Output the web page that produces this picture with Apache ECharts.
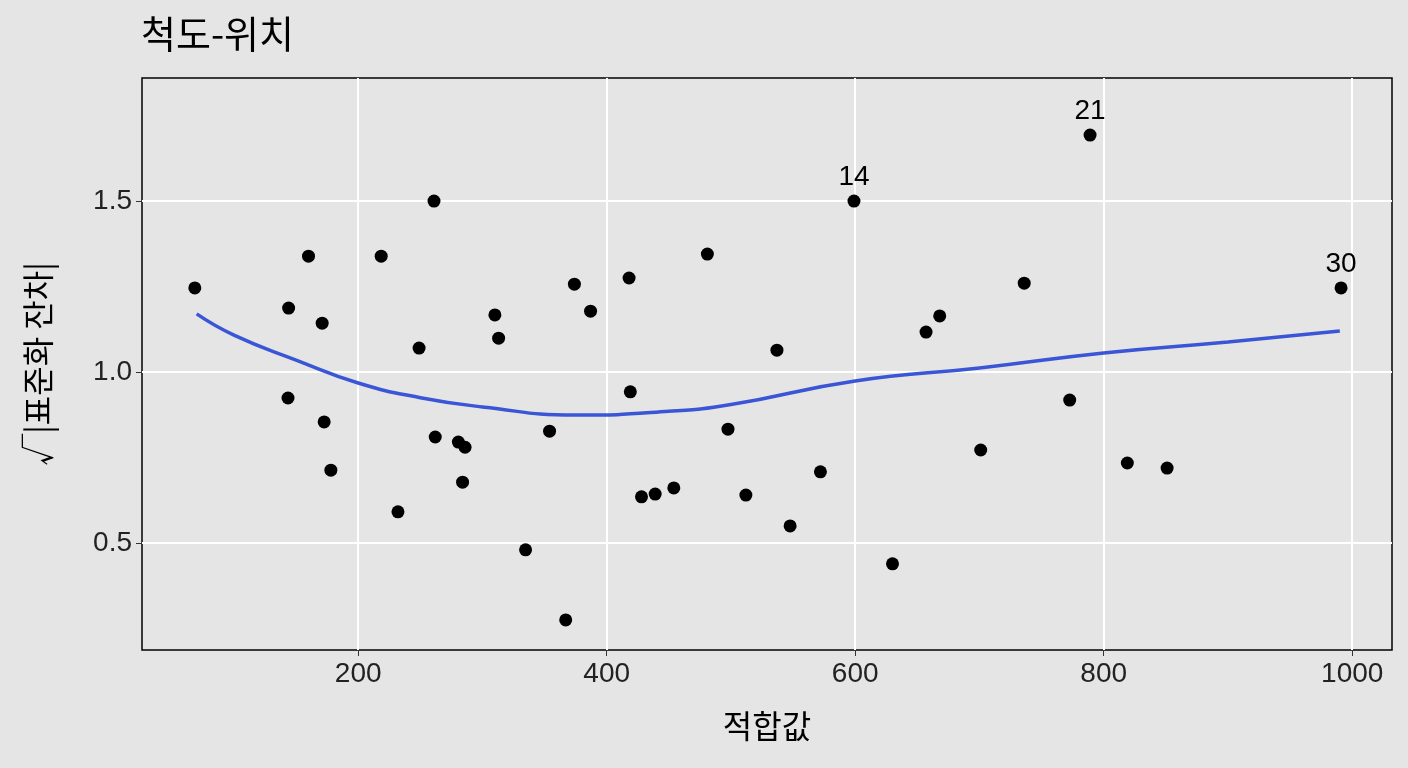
<!DOCTYPE html>
<html>
<head>
<meta charset="utf-8" />
<title>척도-위치</title>
<script src="https://cdn.jsdelivr.net/npm/echarts@6/dist/echarts.min.js"></script>
<style>
	html,body{margin:0;padding:0;background:#e5e5e5;}
	#chart{width:1408px;height:768px;}
</style>
</head>
<body>
<div id="chart"></div>
<script type="text/javascript">
// 적합값, sqrt|표준화 잔차|
var fitted = [68.5,144,160,171,143.5,172.6,178,218.5,261,249,262,232,280.6,286,284,310,313,354,334.7,367,374,387,418,419,428,439,454,481,497.6,512,537,547.6,572,599,630,657,668,701,736,772.6,789,819,851,991];
var resid = [1.246,1.187,1.339,1.143,0.924,0.854,0.713,1.339,1.5,1.07,0.81,0.591,0.795,0.78,0.678,1.167,1.099,0.827,0.48,0.275,1.257,1.178,1.275,0.942,0.635,0.643,0.661,1.345,0.833,0.64,1.064,0.55,0.708,1.5,0.439,1.117,1.164,0.772,1.26,0.918,1.693,0.734,0.719,1.246];
var labels = {33:'14',40:'21',43:'30'};
var smoothX = [70,100,150,200,250,300,375,450,500,600,700,800,900,990];
var smoothY = [1.17,1.108,1.035,0.968,0.925,0.898,0.874,0.885,0.905,0.974,1.012,1.056,1.088,1.12];
var xTicks = [200,400,600,800,1000];
var yTicks = [0.5,1.0,1.5];

var pts = fitted.map(function(x,i){
	var p = {value:[x,resid[i]]};
	if(labels[i]){p.label={show:true,position:'top',formatter:labels[i],fontSize:28,color:'#000',distance:3};}
	return p;
});
var line = smoothX.map(function(x,i){return [x,smoothY[i]];});
var grids = xTicks.map(function(v){return {xAxis:v};}).concat(yTicks.map(function(v){return {yAxis:v};}));

var myChart = echarts.init(document.getElementById('chart'));
myChart.setOption({
	backgroundColor:'#e5e5e5',
	textStyle:{fontFamily:'Liberation Sans'},
	title:{text:'척도-위치',left:136,top:10,textStyle:{fontSize:38,fontWeight:'normal',color:'#000',fontFamily:'Noto Sans CJK KR'}},
	grid:{left:142,right:16,top:78,bottom:118,show:true,backgroundColor:'#e5e5e5',borderColor:'#000',borderWidth:1.5},
	xAxis:{type:'value',min:26,max:1032,
		name:'적합값',nameLocation:'middle',nameGap:60,
		nameTextStyle:{fontSize:32,color:'#000',fontFamily:'Noto Sans CJK KR'},
		axisLine:{show:false},
		axisLabel:{fontSize:28,color:'#222',margin:10,customValues:xTicks,formatter:function(v){return String(v);}},
		axisTick:{customValues:xTicks,length:6,lineStyle:{color:'#333'}},
		splitLine:{show:false}},
	yAxis:{type:'value',min:0.187,max:1.86,
		name:'√|표준화 잔차|',nameLocation:'middle',nameGap:88,
		nameTextStyle:{fontSize:32,color:'#000',fontFamily:'Noto Sans CJK KR'},
		axisLine:{show:false},
		axisLabel:{fontSize:28,color:'#222',margin:10,customValues:yTicks,formatter:function(v){return v.toFixed(1);}},
		axisTick:{customValues:yTicks,length:6,lineStyle:{color:'#333'}},
		splitLine:{show:false}},
	series:[
		{type:'line',data:[],z:1,markLine:{silent:true,symbol:'none',label:{show:false},z:1,
			lineStyle:{color:'#fff',width:2,type:'solid'},data:grids}},
		{type:'line',data:line,smooth:0.5,showSymbol:false,lineStyle:{color:'#3a56d6',width:3.5},z:3},
		{type:'scatter',data:pts,symbolSize:13,itemStyle:{color:'#000',opacity:1},z:4,clip:false}
	]
});
</script>
</body>
</html>
